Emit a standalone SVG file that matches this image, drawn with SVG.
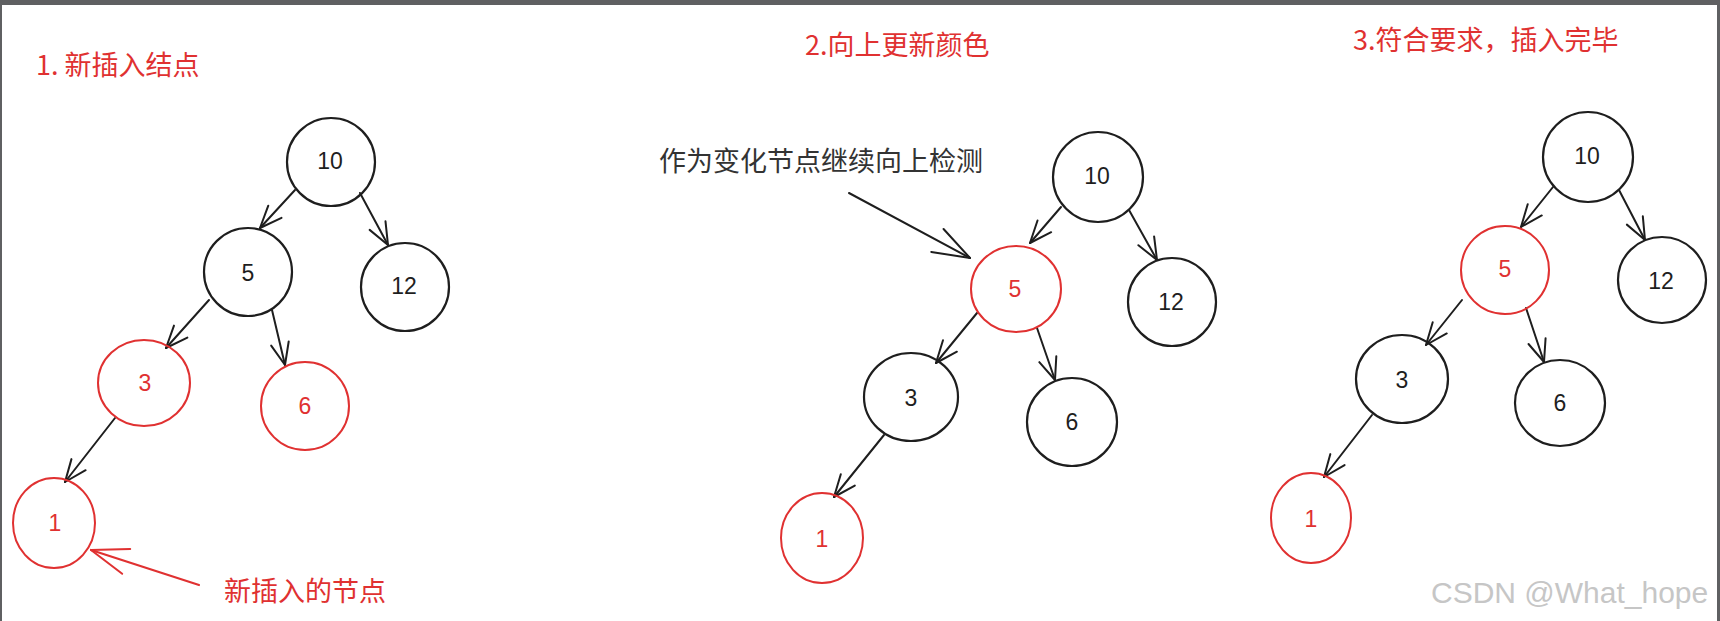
<svg xmlns="http://www.w3.org/2000/svg" width="1720" height="621" viewBox="0 0 1720 621">
<style>
.nb{fill:none;stroke:#1e1e1e;stroke-width:2.2}
.nr{fill:none;stroke:#e03131;stroke-width:2}
.tb{font-family:"Liberation Sans","Noto Sans",sans-serif;font-size:23px;fill:#1e1e1e;text-anchor:middle;dominant-baseline:central}
.tr{font-family:"Liberation Sans","Noto Sans",sans-serif;font-size:23px;fill:#e03131;text-anchor:middle;dominant-baseline:central}
.title{font-family:"Noto Sans CJK SC","Noto Sans",sans-serif;font-size:27px;fill:#e03131}
.note{font-family:"Noto Sans CJK SC","Noto Sans",sans-serif;font-size:27px;fill:#333333}
.cb{fill:none;stroke:#1e1e1e;stroke-width:2;stroke-linecap:round}
.cr{fill:none;stroke:#e03131;stroke-width:2.2;stroke-linecap:round}
</style>
<defs>
<marker id="ab" markerUnits="userSpaceOnUse" markerWidth="30" markerHeight="24" viewBox="-25 -12 30 24" refX="0" refY="0" orient="auto" overflow="visible">
<path d="M-22,-9 L0,0 L-22,9" fill="none" stroke="#1e1e1e" stroke-width="2" stroke-linecap="round" stroke-linejoin="round"/>
</marker>
<marker id="abBig" markerUnits="userSpaceOnUse" markerWidth="44" markerHeight="32" viewBox="-40 -16 44 32" refX="0" refY="0" orient="auto" overflow="visible">
<path d="M-37,-13 L0,0 L-37,13" fill="none" stroke="#1e1e1e" stroke-width="2" stroke-linecap="round" stroke-linejoin="round"/>
</marker>
<marker id="arBig" markerUnits="userSpaceOnUse" markerWidth="44" markerHeight="32" viewBox="-40 -16 44 32" refX="0" refY="0" orient="auto" overflow="visible">
<path d="M-37,-13 L0,0 L-37,13" fill="none" stroke="#e03131" stroke-width="2" stroke-linecap="round" stroke-linejoin="round"/>
</marker>
</defs>
<rect x="0" y="0" width="1720" height="621" fill="#ffffff"/>
<rect x="0" y="0" width="1720" height="5" fill="#5f6062"/>
<rect x="0" y="0" width="2" height="621" fill="#5f6062"/>
<rect x="1717" y="0" width="3" height="621" fill="#5f6062"/>

<g id="titles">
<text class="title" x="36" y="75">1. 新插入结点</text>
<text class="title" x="805" y="55">2.向上更新颜色</text>
<text class="title" x="1353" y="50">3.符合要求，插入完毕</text>
</g>

<g id="connectors">
<path class="cb" d="M295,190 L260,228" marker-end="url(#ab)"/>
<path class="cb" d="M360,193 L388,245" marker-end="url(#ab)"/>
<path class="cb" d="M209,300 L166,348" marker-end="url(#ab)"/>
<path class="cb" d="M272,310 L285,365" marker-end="url(#ab)"/>
<path class="cb" d="M115,418 L65,482" marker-end="url(#ab)"/>
<path class="cr" d="M199,585 L91,550" marker-end="url(#arBig)"/>

<path class="cb" d="M849,193 L970,258" marker-end="url(#abBig)"/>
<path class="cb" d="M1061,207 L1030,243" marker-end="url(#ab)"/>
<path class="cb" d="M1129,210 L1157,260" marker-end="url(#ab)"/>
<path class="cb" d="M977,313 L936,363" marker-end="url(#ab)"/>
<path class="cb" d="M1037,328 L1055,380" marker-end="url(#ab)"/>
<path class="cb" d="M884,435 L834,497" marker-end="url(#ab)"/>

<path class="cb" d="M1553,187 L1521,227" marker-end="url(#ab)"/>
<path class="cb" d="M1619,190 L1645,240" marker-end="url(#ab)"/>
<path class="cb" d="M1462,300 L1426,345" marker-end="url(#ab)"/>
<path class="cb" d="M1526,308 L1544,362" marker-end="url(#ab)"/>
<path class="cb" d="M1372,415 L1324,477" marker-end="url(#ab)"/>
</g>

<g id="p1-n10"><ellipse class="nb" cx="331" cy="162" rx="44" ry="44"/><text class="tb" x="330" y="161">10</text></g>
<g id="p1-n5"><ellipse class="nb" cx="248" cy="272" rx="44" ry="44"/><text class="tb" x="248" y="273">5</text></g>
<g id="p1-n12"><ellipse class="nb" cx="405" cy="287" rx="44" ry="44"/><text class="tb" x="404" y="286">12</text></g>
<g id="p1-n3"><ellipse class="nr" cx="144" cy="383" rx="46" ry="43"/><text class="tr" x="145" y="383">3</text></g>
<g id="p1-n6"><ellipse class="nr" cx="305" cy="406" rx="44" ry="44"/><text class="tr" x="305" y="406">6</text></g>
<g id="p1-n1"><ellipse class="nr" cx="54" cy="523" rx="41" ry="45"/><text class="tr" x="55" y="523">1</text></g>
<g id="p1-label"><text class="title" x="224" y="601">新插入的节点</text></g>

<g id="p2-label"><text class="note" x="659" y="171">作为变化节点继续向上检测</text></g>
<g id="p2-n10"><ellipse class="nb" cx="1098" cy="177" rx="45" ry="45"/><text class="tb" x="1097" y="176">10</text></g>
<g id="p2-n5"><ellipse class="nr" cx="1016" cy="289" rx="45" ry="43"/><text class="tr" x="1015" y="289">5</text></g>
<g id="p2-n12"><ellipse class="nb" cx="1172" cy="302" rx="44" ry="44"/><text class="tb" x="1171" y="302">12</text></g>
<g id="p2-n3"><ellipse class="nb" cx="911" cy="397" rx="47" ry="44"/><text class="tb" x="911" y="398">3</text></g>
<g id="p2-n6"><ellipse class="nb" cx="1072" cy="422" rx="45" ry="44"/><text class="tb" x="1072" y="422">6</text></g>
<g id="p2-n1"><ellipse class="nr" cx="822" cy="538" rx="41" ry="45"/><text class="tr" x="822" y="539">1</text></g>

<g id="p3-n10"><ellipse class="nb" cx="1588" cy="157" rx="45" ry="45"/><text class="tb" x="1587" y="156">10</text></g>
<g id="p3-n5"><ellipse class="nr" cx="1505" cy="270" rx="44" ry="44"/><text class="tr" x="1505" y="269">5</text></g>
<g id="p3-n12"><ellipse class="nb" cx="1662" cy="280" rx="44" ry="43"/><text class="tb" x="1661" y="281">12</text></g>
<g id="p3-n3"><ellipse class="nb" cx="1402" cy="379" rx="46" ry="44"/><text class="tb" x="1402" y="380">3</text></g>
<g id="p3-n6"><ellipse class="nb" cx="1560" cy="403" rx="45" ry="43"/><text class="tb" x="1560" y="403">6</text></g>
<g id="p3-n1"><ellipse class="nr" cx="1311" cy="518" rx="40" ry="45"/><text class="tr" x="1311" y="519">1</text></g>

<g id="watermark"><text x="1431" y="603" font-family="'Liberation Sans',Arial,sans-serif" font-size="30" fill="#c6c6c6">CSDN @What_hope</text></g>
</svg>
